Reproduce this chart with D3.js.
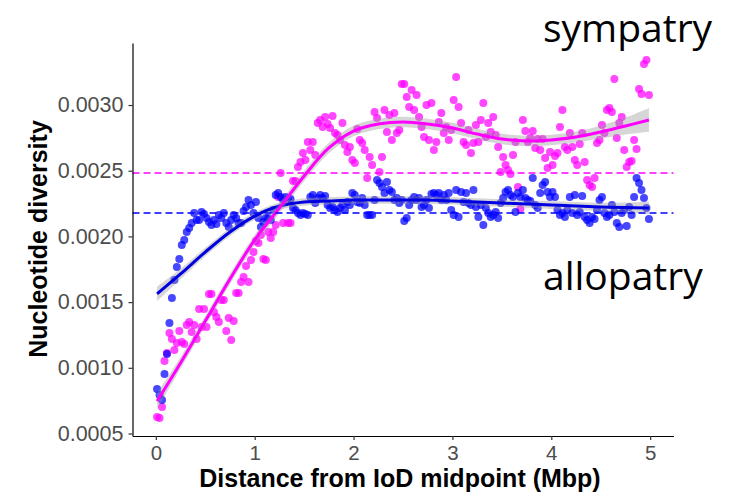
<!DOCTYPE html>
<html>
<head>
<meta charset="utf-8">
<script src="https://cdn.jsdelivr.net/npm/d3@7"></script>
<style>
  body { margin: 0; background: #fff; }
  svg { display: block; }
</style>
</head>
<body>
<script>
// 25 kb windows along the first 5 Mbp away from the IoD midpoint
const windowCount = 200;
const windowStep = 0.025;
const distance = d3.range(windowCount).map(i => 0.0125 + i * windowStep);

// Nucleotide diversity per window, sympatric populations
const sympatryPi = [
  0.000626, 0.000618, 0.000702, 0.001052, 0.001113, 0.001265, 0.001219, 0.001135, 0.001189, 0.00128,
  0.001196, 0.001181, 0.001326, 0.001349, 0.001272, 0.001326, 0.001219, 0.001448, 0.001311, 0.001448,
  0.001311, 0.001562, 0.001562, 0.001425, 0.001387, 0.001349, 0.001516, 0.001516, 0.00128, 0.001379,
  0.001212, 0.001356, 0.001569, 0.001569, 0.001653, 0.001691, 0.001775, 0.001653, 0.00182, 0.001881,
  0.001965, 0.00195, 0.002011, 0.001828, 0.00182, 0.002033, 0.001988, 0.002033, 0.002087, 0.0023,
  0.002482, 0.002102, 0.002277, 0.002102, 0.002102, 0.002422, 0.002422, 0.002528, 0.002566, 0.002635,
  0.002581, 0.002718, 0.002657, 0.002718, 0.002619, 0.002863, 0.002886, 0.002833, 0.002909, 0.002855,
  0.002825, 0.002916, 0.002787, 0.002772, 0.002734, 0.002863, 0.002696, 0.002642, 0.00268, 0.002581,
  0.002559, 0.002817, 0.002734, 0.002711, 0.002657, 0.002444, 0.002604, 0.002543, 0.002947, 0.002901,
  0.00249, 0.002604, 0.002962, 0.002794, 0.002924, 0.002734, 0.002939, 0.002787, 0.00281, 0.00316,
  0.00316, 0.003061, 0.002985, 0.003114, 0.002962, 0.003076, 0.002909, 0.002833, 0.002756, 0.003,
  0.002734, 0.003015, 0.002657, 0.002718, 0.002871, 0.002939, 0.002787, 0.002833, 0.002734, 0.00281,
  0.003038, 0.003213, 0.002985, 0.002863, 0.002718, 0.002696, 0.00281, 0.002635, 0.002711, 0.002848,
  0.002718, 0.002886, 0.003015, 0.002756, 0.002863, 0.002794, 0.002909, 0.002772, 0.00268, 0.00249,
  0.002604, 0.002543, 0.002505, 0.002475, 0.002619, 0.002718, 0.002376, 0.002209, 0.002886, 0.002802,
  0.002718, 0.002749, 0.002802, 0.002673, 0.002741, 0.002657, 0.002741, 0.002597, 0.002521, 0.002642,
  0.002543, 0.002612, 0.002635, 0.002833, 0.002962, 0.00268, 0.002657, 0.002787, 0.00268, 0.002581,
  0.002543, 0.002703, 0.002787, 0.002566, 0.002429, 0.002391, 0.002376, 0.002444, 0.002711, 0.002734,
  0.002848, 0.002787, 0.002962, 0.002977, 0.002947, 0.003198, 0.002749, 0.002863, 0.002909, 0.002657,
  0.002528, 0.002566, 0.002574, 0.002734, 0.002665, 0.003122, 0.003084, 0.003312, 0.003342, 0.003076
];

// Nucleotide diversity per window, allopatric populations
const allopatryPi = [
  0.000839, 0.000793, 0.000755, 0.000953, 0.001105, 0.001341, 0.001531, 0.001668, 0.001767, 0.001828,
  0.001935, 0.001973, 0.002033, 0.002064, 0.002102, 0.002178, 0.002125, 0.002125, 0.002186, 0.00217,
  0.00214, 0.00211, 0.002087, 0.002125, 0.002094, 0.002163, 0.00214, 0.002178, 0.002102, 0.002072,
  0.002125, 0.002163, 0.00214, 0.002102, 0.002102, 0.002193, 0.002224, 0.002277, 0.002239, 0.002178,
  0.002262, 0.00214, 0.002072, 0.00211, 0.00214, 0.00214, 0.002125, 0.002201, 0.002315, 0.00233,
  0.0023, 0.002277, 0.0023, 0.002292, 0.002285, 0.002216, 0.002201, 0.002178, 0.002163, 0.002178,
  0.00217, 0.002163, 0.0023, 0.002315, 0.002254, 0.002292, 0.002315, 0.002292, 0.002307, 0.002239,
  0.002216, 0.002224, 0.002201, 0.002186, 0.002216, 0.002239, 0.002201, 0.002262, 0.002239, 0.00233,
  0.002315, 0.002262, 0.002254, 0.002292, 0.002239, 0.002163, 0.002163, 0.002163, 0.002277, 0.002429,
  0.002406, 0.002376, 0.00233, 0.002414, 0.002353, 0.002338, 0.002277, 0.002292, 0.002254, 0.002277,
  0.002117, 0.00214, 0.002239, 0.002277, 0.0023, 0.002277, 0.002292, 0.002224, 0.002239, 0.002277,
  0.002216, 0.002323, 0.00233, 0.002315, 0.00233, 0.002277, 0.002315, 0.002277, 0.00233, 0.002201,
  0.002163, 0.002353, 0.002148, 0.002338, 0.002262, 0.00233, 0.002254, 0.002239, 0.002353, 0.002224,
  0.002148, 0.002239, 0.002087, 0.002216, 0.002178, 0.002148, 0.002163, 0.002186, 0.00214, 0.002254,
  0.002292, 0.002338, 0.002353, 0.002315, 0.0023, 0.002186, 0.00233, 0.0023, 0.002353, 0.002292,
  0.002277, 0.002269, 0.002444, 0.002239, 0.002216, 0.00233, 0.002391, 0.002414, 0.002338, 0.0023,
  0.002338, 0.0023, 0.002201, 0.002163, 0.002178, 0.002148, 0.002201, 0.0023, 0.002178, 0.002315,
  0.002163, 0.002186, 0.002307, 0.002148, 0.002125, 0.002102, 0.002148, 0.002132, 0.002201, 0.002277,
  0.0023, 0.002178, 0.002148, 0.002163, 0.002239, 0.002186, 0.002102, 0.002072, 0.002178, 0.002201,
  0.002079, 0.002224, 0.002163, 0.0023, 0.002444, 0.002406, 0.002353, 0.002292, 0.002216, 0.002132
];

// Loess fits with their confidence half-widths
const fitDistance = [0.0125, 0.25, 0.5, 0.75, 1.0, 1.25, 1.5, 1.75, 2.0, 2.25, 2.5,
                     2.75, 3.0, 3.25, 3.5, 3.75, 4.0, 4.25, 4.5, 4.75, 4.9875];
const sympatryFit = [0.000747, 0.001037, 0.001356, 0.001676, 0.001973, 0.002216, 0.00246,
                     0.002673, 0.002802, 0.002855, 0.002871, 0.002855, 0.002825, 0.002779,
                     0.002741, 0.002726, 0.002734, 0.002756, 0.002795, 0.00284, 0.002886];
const sympatryBand = [0.00006, 0.000045, 0.00004, 0.00004, 0.00004, 0.00004, 0.00004,
                      0.00004, 0.00004, 0.00004, 0.00004, 0.00004, 0.00004, 0.00004,
                      0.00004, 0.00004, 0.00004, 0.000042, 0.00005, 0.000065, 0.00009];
const allopatryFit = [0.001562, 0.001714, 0.001881, 0.002034, 0.002155, 0.002231, 0.002262,
                      0.00227, 0.002277, 0.002277, 0.002277, 0.002277, 0.00227, 0.002262,
                      0.002254, 0.002246, 0.002239, 0.002231, 0.002224, 0.00222, 0.002216];
const allopatryBand = [0.000055, 0.00004, 0.000032, 0.00003, 0.000028, 0.000028, 0.000028,
                       0.000028, 0.000028, 0.000028, 0.000028, 0.000028, 0.000028, 0.000028,
                       0.000028, 0.000028, 0.00003, 0.00003, 0.000032, 0.000038, 0.000048];

// Genome-wide means
const sympatryMean = 0.002482;
const allopatryMean = 0.002178;

const xTicks = [0, 1, 2, 3, 4, 5];
const yTicks = [0.0005, 0.0010, 0.0015, 0.0020, 0.0025, 0.0030];

const W = 743, H = 495;
const svg = d3.select("body").append("svg").attr("width", W).attr("height", H);

const x = d3.scaleLinear().domain([-0.236, 5.236]).range([132.5, 673.5]);
const y = d3.scaleLinear().domain([0.000481, 0.003472]).range([436, 43]);

const groups = [
  { key: "sympatry", pi: sympatryPi, fit: sympatryFit, band: sympatryBand, mean: sympatryMean,
    point: "#ff00ff", line: "#ff00ff" },
  { key: "allopatry", pi: allopatryPi, fit: allopatryFit, band: allopatryBand, mean: allopatryMean,
    point: "#0000ff", line: "#0000e0" }
];

// Points
groups.forEach(g => {
  svg.append("g").selectAll("circle")
    .data(g.pi)
    .join("circle")
    .attr("cx", (d, i) => x(distance[i]))
    .attr("cy", d => y(d))
    .attr("r", 4)
    .attr("fill", g.point)
    .attr("fill-opacity", 0.72);
});

// Smooth fits with confidence ribbons
const area = d3.area()
  .x(d => x(d.t))
  .y0(d => y(d.v - d.s))
  .y1(d => y(d.v + d.s))
  .curve(d3.curveCatmullRom);
const line = d3.line()
  .x(d => x(d.t))
  .y(d => y(d.v))
  .curve(d3.curveCatmullRom);

[groups[1], groups[0]].forEach(g => {
  const pts = fitDistance.map((t, i) => ({ t, v: g.fit[i], s: g.band[i] }));
  svg.append("path").attr("d", area(pts))
    .attr("fill", "#999999").attr("fill-opacity", 0.4);
  svg.append("path").attr("d", line(pts))
    .attr("fill", "none").attr("stroke", g.line).attr("stroke-width", 3);
});

// Mean reference lines
groups.forEach(g => {
  svg.append("line")
    .attr("x1", x.range()[0]).attr("x2", x.range()[1])
    .attr("y1", y(g.mean)).attr("y2", y(g.mean))
    .attr("stroke", g.point).attr("stroke-width", 1.5)
    .attr("stroke-dasharray", "7,4");
});

// Axes
const font = "'Liberation Sans', Arial, Helvetica, sans-serif";
const xAxis = svg.append("g").attr("transform", `translate(0,${y.range()[0]})`)
  .call(d3.axisBottom(x).tickValues(xTicks).tickFormat(d3.format("d"))
    .tickSize(4).tickPadding(5).tickSizeOuter(0));
const yAxis = svg.append("g").attr("transform", `translate(${x.range()[0]},0)`)
  .call(d3.axisLeft(y).tickValues(yTicks).tickFormat(d3.format(".4f"))
    .tickSize(4).tickPadding(5).tickSizeOuter(0));

[xAxis, yAxis].forEach(a => {
  a.select(".domain").attr("stroke", "#000").attr("stroke-width", 1.2);
  a.selectAll(".tick line").attr("stroke", "#333").attr("stroke-width", 1.2);
  a.selectAll(".tick text").attr("fill", "#4d4d4d")
    .style("font-family", font).style("font-size", "21.5px");
});
xAxis.selectAll(".tick text").style("font-size", "20.5px");

// Axis titles
svg.append("text")
  .attr("x", 400).attr("y", 487)
  .attr("text-anchor", "middle")
  .style("font-family", font).style("font-weight", "bold").style("font-size", "25px")
  .text("Distance from IoD midpoint (Mbp)");
svg.append("text")
  .attr("transform", "translate(47,239) rotate(-90)")
  .attr("text-anchor", "middle")
  .style("font-family", font).style("font-weight", "bold").style("font-size", "25px")
  .text("Nucleotide diversity");

// Group labels
const labelFont = "'Open Sans', 'Noto Sans', sans-serif";
svg.append("text").attr("x", 543).attr("y", 42)
  .style("font-family", labelFont).style("font-size", "39px").attr("fill", "#000")
  .text("sympatry");
svg.append("text").attr("x", 543).attr("y", 290)
  .style("font-family", labelFont).style("font-size", "39px").attr("fill", "#000")
  .text("allopatry");
</script>
</body>
</html>
